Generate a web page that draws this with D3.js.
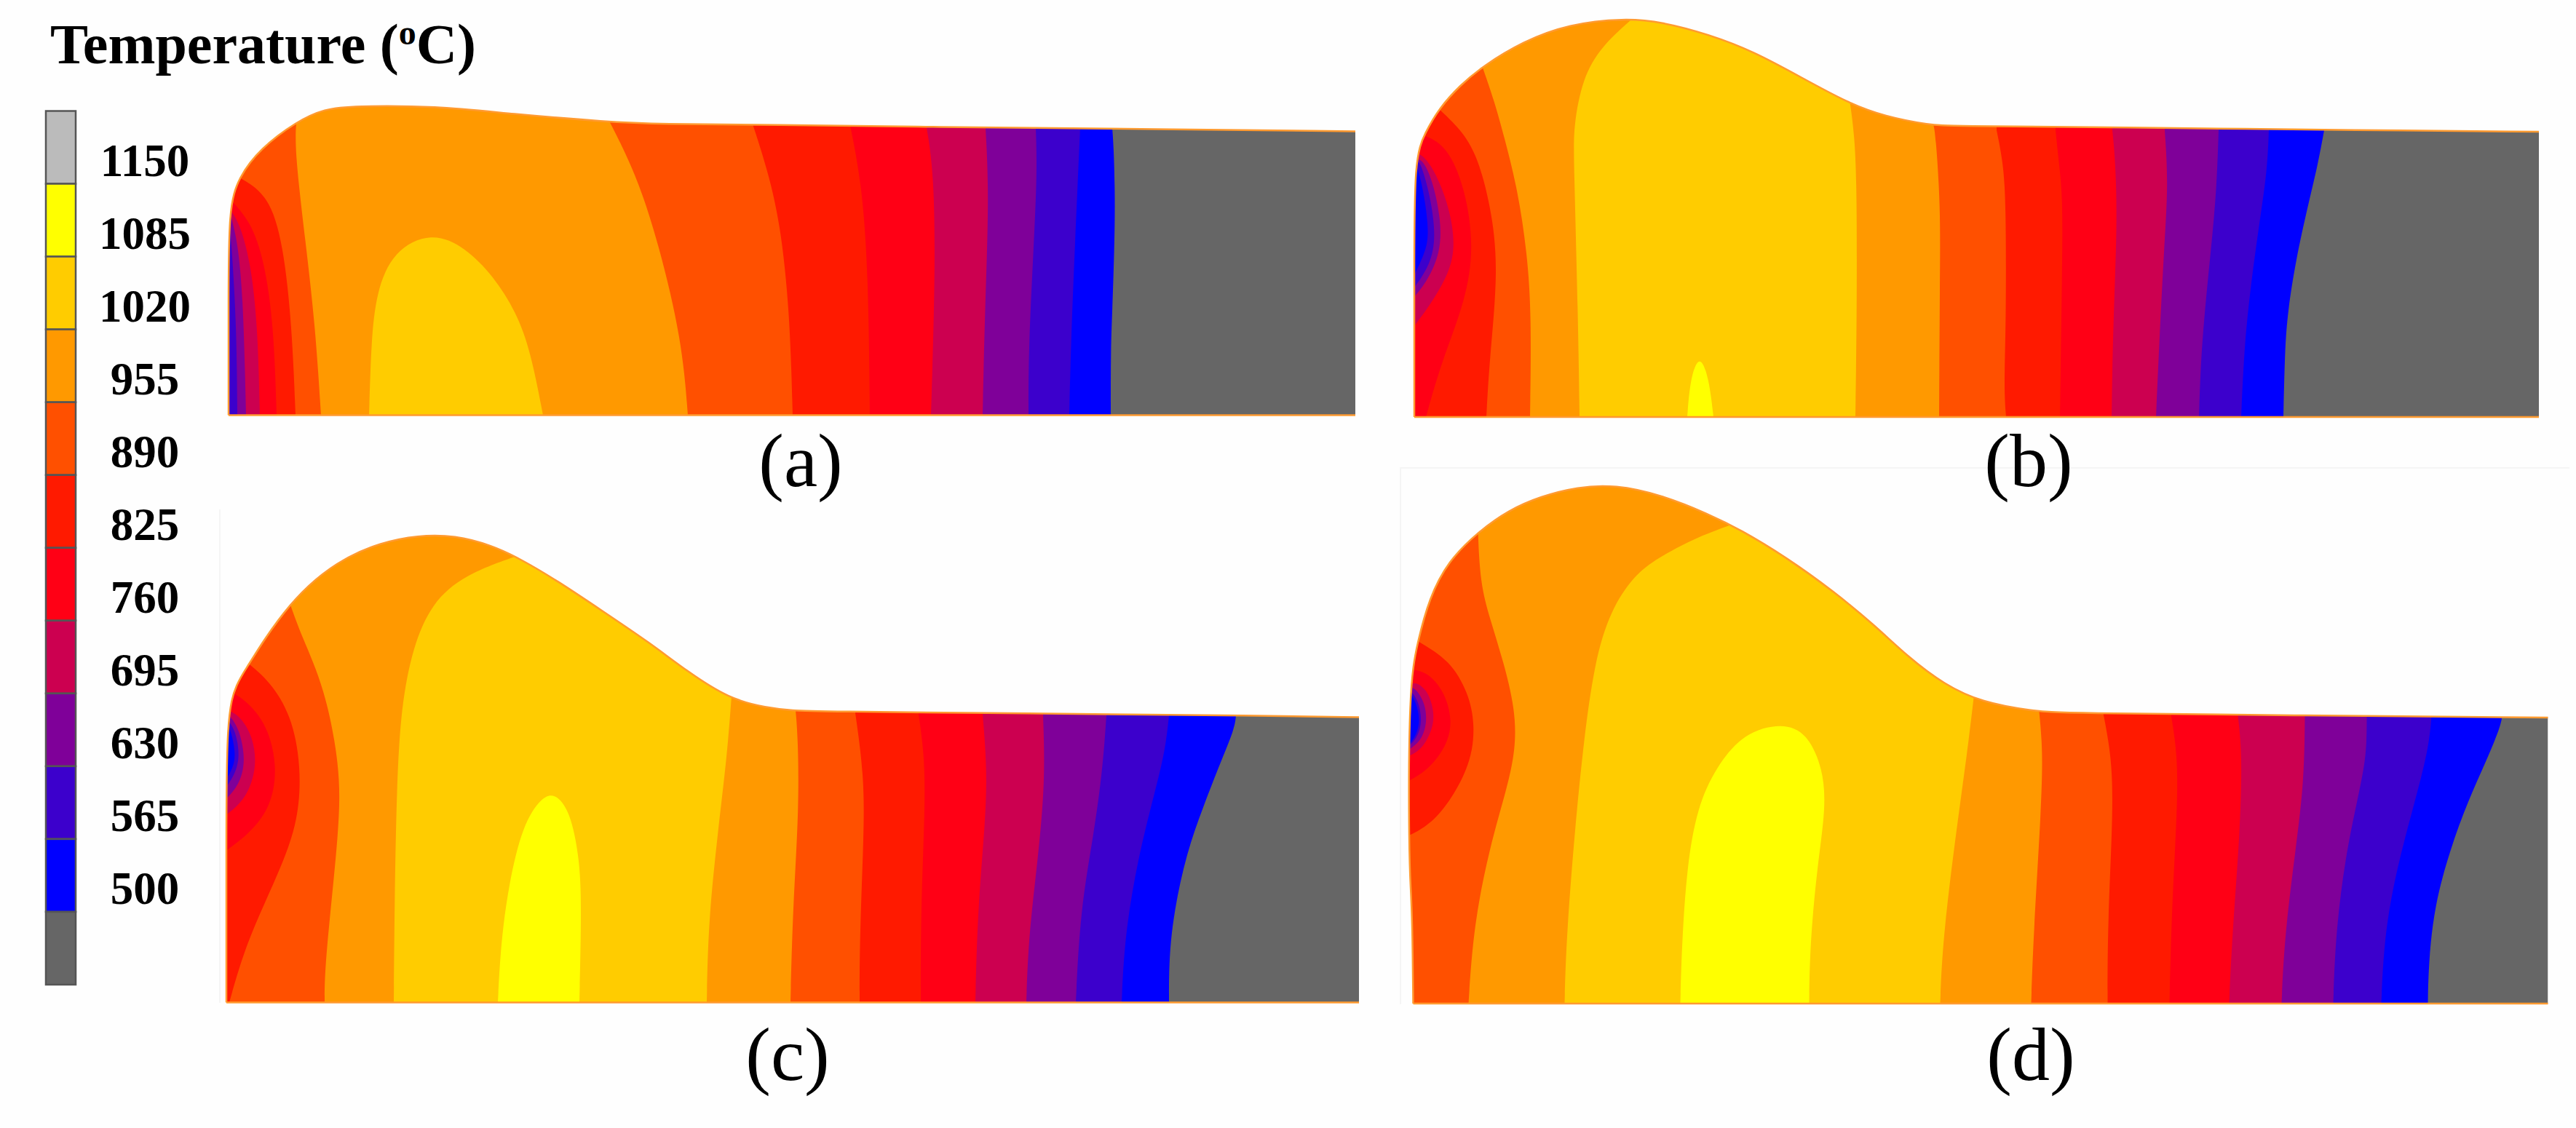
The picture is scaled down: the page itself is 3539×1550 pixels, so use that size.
<!doctype html>
<html>
  <head>
    <meta charset="utf-8">
    <title>Temperature contours</title>
    <script src="https://cdnjs.cloudflare.com/ajax/libs/d3/7.8.5/d3.min.js"></script>
    <style>
      html, body { margin: 0; background: #fefefe; }
      svg { display: block; }
      text { font-family: "Liberation Serif", serif; fill: #000; }
    </style>
  </head>
  <body>
    <div id="chart"></div>

    <script>
      // legend, top to bottom (the last cell has no label)
      const legendLabels = [1150, 1085, 1020, 955, 890, 825, 760, 695, 630, 565, 500, ''];
      const legendColors = ['#bbbbbb', '#ffff00', '#ffcc00', '#ff9900', '#ff5000', '#ff1a00',
                            '#ff0015', '#cc0050', '#7f0099', '#3c00cc', '#0000ff', '#666666'];
      const panelLabels = ['(a)', '(b)', '(c)', '(d)'];

      // workpiece outlines, [distance, height]
      const outlineA = [[0,0],[0,150],[0,285],[14,327],[43,366],[94,404],[132,421],[171,425],[285,425],[388,414],[521,403],[592,400],[745,399],[969,396],[1185,394],[1548,390]];
      const outlineB = [[0,0],[0,200],[0,356],[15,391],[34,424],[63,456],[94,482],[149,516],[212,540],[289,548],[340,543],[404,526],[467,502],[531,467],[595,432],[646,413],[710,401],[735,400],[960,398],[1313,394],[1545,392]];
      const outlineC = [[0,0],[0,200],[0,396],[14,439],[30,463],[52,499],[87,547],[122,582],[161,610],[212,632],[263,642],[314,642],[365,628],[403,610],[454,580],[518,537],[582,494],[633,455],[691,417],[742,405],[780,401],[806,400],[1125,397],[1424,394],[1556,392]];
      const outlineD = [[0,0],[-1,100],[-3,155],[-6,200],[-6,435],[6,497],[22,557],[48,608],[89,648],[131,678],[175,697],[226,710],[277,713],[341,699],[405,673],[450,651],[513,613],[577,567],[635,519],[679,477],[730,438],[781,414],[851,402],[892,399],[1224,396],[1545,393],[1559,393]];

      // isotherms, [temperature band painted left of the curve, curve points], painted in order
      const contoursA = [
        [500, [[1212,0],[1212,90],[1214,140],[1217,230],[1218,300],[1216,370],[1214,395]]],
        [565, [[1155,0],[1157,90],[1163,240],[1170,395]]],
        [630, [[1099,0],[1099,90],[1106,230],[1111,335],[1109,395]]],
        [695, [[1036,0],[1039,142],[1045,300],[1040,395]]],
        [760, [[965,0],[971,195],[969,335],[959,395]]],
        [825, [[881,0],[879,195],[870,318],[854,398]]],
        [890, [[775,0],[771,142],[758,265],[739,342],[720,400]]],
        [955, [[631,0],[623,102],[591,236],[559,334],[521,408]]],
        [890, [[127,0],[119,124],[106,236],[90,370],[94,410]]],
        [825, [[92,0],[87,124],[75,236],[55,303],[14,327]]],
        [760, [[66,0],[62,124],[49,213],[30,267],[1,298]]],
        [695, [[43,0],[40,124],[30,213],[14,267],[0,285]]],
        [630, [[24,0],[20,169],[11,249],[0,283]]],
        [565, [[12,0],[11,124],[4,236],[0,280]]]
      ];
      const contoursB = [
        [500, [[1194,0],[1196,92],[1200,145],[1211,215],[1228,292],[1241,345],[1250,394]]],
        [565, [[1136,0],[1140,92],[1148,172],[1161,267],[1172,340],[1174,394]]],
        [630, [[1078,0],[1081,92],[1091,197],[1102,303],[1105,394]]],
        [695, [[1019,0],[1023,92],[1030,232],[1036,320],[1031,394]]],
        [760, [[958,0],[960,127],[966,267],[963,355],[959,394]]],
        [825, [[887,0],[890,197],[891,303],[885,355],[881,394]]],
        [890, [[813,0],[810,40],[813,127],[813,303],[808,355],[800,394]]],
        [955, [[721,0],[722,183],[723,291],[716,391],[713,402]]],
        [1020, [[606,0],[608,140],[608,313],[605,387],[598,436]]],
        [955, [[227,0],[225,140],[219,356],[219,400],[231,465],[257,510],[305,552]]],
        [890, [[159,0],[161,140],[155,226],[142,313],[123,387],[110,434],[94,480]]],
        [825, [[99,0],[103,75],[116,205],[105,291],[85,365],[59,400],[33,424]]],
        [760, [[16,0],[37,75],[71,161],[82,235],[70,313],[47,368],[21,385],[8,387]]],
        [695, [[0,125],[21,153],[45,192],[57,231],[49,287],[27,342],[8,363],[0,361]]],
        [630, [[0,165],[18,187],[36,226],[37,270],[25,326],[11,355],[0,354]]],
        [565, [[0,178],[22,209],[30,248],[22,304],[8,353],[0,354]]],
        [500, [[0,195],[13,222],[21,248],[14,304],[5,342],[0,348]]]
      ];
      const contoursC = [
        [500, [[1295,0],[1295,62],[1302,126],[1319,205],[1342,269],[1367,333],[1385,376],[1387,394]]],
        [565, [[1230,0],[1234,90],[1252,197],[1275,287],[1290,347],[1295,394]]],
        [630, [[1167,0],[1173,126],[1192,233],[1204,322],[1209,394]]],
        [695, [[1099,0],[1102,90],[1115,197],[1125,305],[1122,394]]],
        [760, [[1029,0],[1032,126],[1043,251],[1045,322],[1039,396]]],
        [825, [[954,0],[954,126],[960,269],[959,340],[951,396]]],
        [890, [[870,0],[870,90],[876,233],[876,312],[864,398]]],
        [955, [[775,0],[778,126],[787,269],[785,369],[782,401]]],
        [1020, [[660,0],[662,108],[675,233],[688,340],[694,421]]],
        [955, [[230,0],[231,135],[234,298],[240,406],[256,488],[282,549],[327,588],[403,615]]],
        [890, [[135,0],[135,54],[156,244],[156,325],[135,433],[103,504],[87,549]]],
        [825, [[4,0],[27,81],[65,163],[99,244],[103,325],[89,396],[59,442],[30,466]]],
        [760, [[0,209],[27,228],[61,266],[71,325],[54,388],[20,420],[8,425]]],
        [695, [[0,258],[27,279],[43,325],[35,371],[14,398],[0,401]]],
        [630, [[0,280],[17,298],[27,331],[18,376],[4,395],[0,396]]],
        [565, [[0,296],[12,314],[19,339],[12,376],[0,390]]],
        [500, [[0,307],[9,322],[13,341],[7,371],[0,387]]]
      ];
      const contoursD = [
        [500, [[1394,0],[1395,56],[1403,135],[1425,213],[1449,278],[1475,335],[1494,381],[1496,395]]],
        [565, [[1330,0],[1334,92],[1350,181],[1374,270],[1395,349],[1399,395]]],
        [630, [[1264,0],[1267,92],[1280,199],[1299,288],[1310,342],[1310,395]]],
        [695, [[1193,0],[1197,92],[1213,217],[1224,306],[1225,396]]],
        [760, [[1121,0],[1125,92],[1136,235],[1139,342],[1133,396]]],
        [825, [[1039,0],[1042,128],[1050,270],[1050,342],[1041,398]]],
        [890, [[954,0],[954,110],[962,270],[959,342],[948,399]]],
        [955, [[849,0],[852,92],[863,270],[865,349],[860,401]]],
        [1020, [[724,0],[727,80],[743,215],[762,351],[770,420]]],
        [955, [[208,0],[210,80],[220,215],[233,351],[249,470],[271,540],[303,588],[335,612],[392,642],[443,660]]],
        [890, [[76,0],[83,107],[105,215],[129,296],[141,351],[140,405],[124,470],[105,530],[92,578],[89,648]]],
        [825, [[-10,230],[0,233],[29,251],[56,286],[80,334],[85,383],[76,427],[50,472],[8,497]]],
        [760, [[-6,306],[22,322],[47,356],[54,389],[43,429],[19,456],[-3,459]]],
        [695, [[-6,340],[13,350],[27,378],[29,400],[21,429],[3,443],[-6,437]]],
        [630, [[-6,349],[10,360],[19,383],[17,412],[3,434],[-6,435]]],
        [565, [[-6,354],[4,363],[13,386],[7,418],[-6,432]]],
        [500, [[-6,356],[3,366],[10,388],[4,415],[-6,429]]]
      ];

      // closed hot cores sitting on the base line
      const coresA = [
        [1020, [[193,0],[196,102],[203,169],[226,226],[279,252],[325,231],[364,191],[395,142],[415,88],[432,0]]]
      ];
      const coresB = [
        [1085, [[375,0],[379,53],[392,88],[405,53],[411,0]]]
      ];
      const coresC = [
        [1085, [[373,0],[377,81],[388,163],[407,244],[433,282],[451,288],[472,264],[485,200],[488,135],[485,0]]]
      ];
      const coresD = [
        [1085, [[367,0],[369,80],[376,188],[390,269],[416,325],[454,372],[507,386],[541,372],[563,323],[567,269],[555,188],[545,80],[544,0]]]
      ];

      const width = 3539, height = 1550;

      const svg = d3.select('#chart')
        .append('svg')
        .attr('width', width)
        .attr('height', height);

      const bandColor = d3.scaleOrdinal().domain(legendLabels).range(legendColors);

      // faint edges of the pasted-in pictures
      svg.append('path')
        .attr('d', 'M1924,1380 V643 H3530 M302,700 V1378')
        .attr('fill', 'none')
        .attr('stroke', '#f5f5f5')
        .attr('stroke-width', 2);

      // Title
      const title = svg.append('text')
        .attr('x', 69)
        .attr('y', 87)
        .style('font-size', '78px')
        .style('font-weight', 'bold');
      title.append('tspan').text('Temperature (');
      title.append('tspan').attr('dy', -26).style('font-size', '48px').text('o');
      title.append('tspan').attr('dy', 26).text('C)');

      // Legend
      const legendY = d3.scaleBand().domain(d3.range(legendLabels.length)).range([152.5, 1353]);

      const legend = svg.append('g');
      legend.selectAll('rect')
        .data(legendColors)
        .join('rect')
        .attr('x', 63)
        .attr('y', (d, i) => legendY(i))
        .attr('width', 41)
        .attr('height', legendY.bandwidth())
        .attr('fill', d => d)
        .attr('stroke', '#555')
        .attr('stroke-width', 2.5);
      legend.selectAll('text')
        .data(legendLabels)
        .join('text')
        .attr('x', 199)
        .attr('y', (d, i) => legendY(i) + legendY.bandwidth() / 2 + 39)
        .text(d => d)
        .style('text-anchor', 'middle')
        .style('font-size', '63px')
        .style('font-weight', 'bold');

      // Panels
      const panels = [
        { id: 'a', x0: 314, base: 570.5, outline: outlineA, contours: contoursA, cores: coresA, label: panelLabels[0], labelX: 1100, labelY: 668 },
        { id: 'b', x0: 1943, base: 573, outline: outlineB, contours: contoursB, cores: coresB, label: panelLabels[1], labelX: 2787, labelY: 668 },
        { id: 'c', x0: 311, base: 1377.5, outline: outlineC, contours: contoursC, cores: coresC, label: panelLabels[2], labelX: 1082, labelY: 1484 },
        { id: 'd', x0: 1941.5, base: 1379, outline: outlineD, contours: contoursD, cores: coresD, label: panelLabels[3], labelX: 2790, labelY: 1484 }
      ];

      panels.forEach(p => {
        const maxX = d3.max(p.outline, d => d[0]);
        const maxH = d3.max(p.outline, d => d[1]);

        const x = d3.scaleLinear().domain([0, maxX]).range([p.x0, p.x0 + maxX]);
        const y = d3.scaleLinear().domain([0, maxH]).range([p.base, p.base - maxH]);

        const line = d3.line()
          .x(d => x(d[0]))
          .y(d => y(d[1]))
          .curve(d3.curveBasis);

        const outlinePath = line(p.outline);

        const g = svg.append('g');

        g.append('clipPath')
          .attr('id', 'clip-' + p.id)
          .append('path')
          .attr('d', outlinePath + `L${x(maxX)},${y(0)}Z`);

        const body = g.append('g').attr('clip-path', `url(#clip-${p.id})`);

        body.append('rect')
          .attr('x', x(-20))
          .attr('y', y(maxH))
          .attr('width', x(maxX) - x(-20))
          .attr('height', y(0) - y(maxH))
          .attr('fill', bandColor(''));

        // each isotherm closes upward past the outline and round the left side
        body.selectAll('path.band')
          .data(p.contours)
          .join('path')
          .attr('class', 'band')
          .attr('d', d => {
            const pts = d[1];
            const first = pts[0], last = pts[pts.length - 1];
            return line(pts)
              + `L${x(last[0])},${y(maxH + 40)}L${x(-100)},${y(maxH + 40)}`
              + `L${x(-100)},${y(first[1])}Z`;
          })
          .attr('fill', d => bandColor(d[0]));

        body.selectAll('path.core')
          .data(p.cores)
          .join('path')
          .attr('class', 'core')
          .attr('d', d => line(d[1]) + 'Z')
          .attr('fill', d => bandColor(d[0]));

        g.append('path')
          .attr('d', outlinePath + `M${x(0)},${y(0)}L${x(maxX)},${y(0)}`)
          .attr('fill', 'none')
          .attr('stroke', '#ff9a30')
          .attr('stroke-width', 2.5);

        svg.append('text')
          .attr('x', p.labelX)
          .attr('y', p.labelY)
          .text(p.label)
          .style('text-anchor', 'middle')
          .style('font-size', '104px');
      });
    </script>
  </body>
</html>
